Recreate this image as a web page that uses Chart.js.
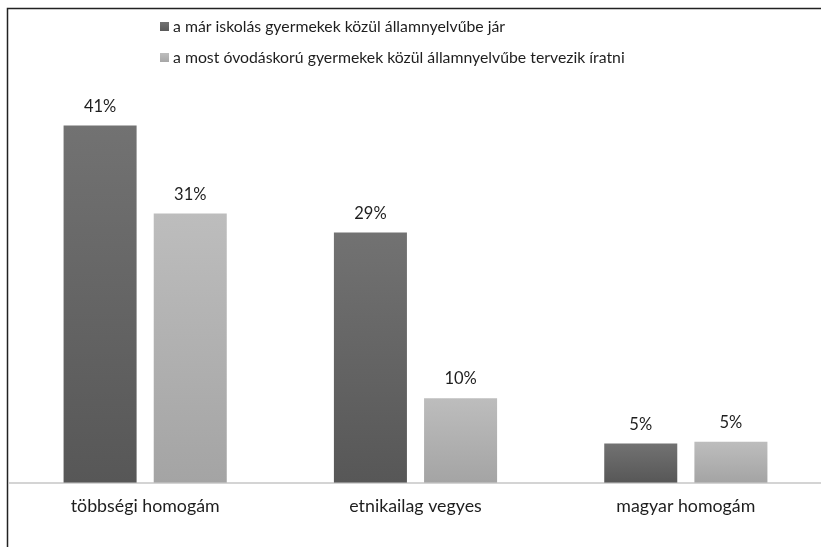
<!DOCTYPE html>
<html>
<head>
<meta charset="utf-8">
<script src="https://cdn.jsdelivr.net/npm/chart.js@4"></script>
<style>
  html, body { margin: 0; padding: 0; background: #fff; }
  #wrap { width: 821px; height: 547px; }
</style>
</head>
<body>
<div id="wrap"><canvas id="chart"></canvas></div>
<script>
// adatok
const categories = ['többségi homogám', 'etnikailag vegyes', 'magyar homogám'];
const seriesNames = [
    'a már iskolás gyermekek közül államnyelvűbe jár',
    'a most óvodáskorú gyermekek közül államnyelvűbe tervezik íratni'
];
const schoolData = [41, 28.7, 4.5];
const preschoolData = [30.9, 9.7, 4.7];

const FONT = 'Lato, "Open Sans", sans-serif';
const darkStops = ['#727272', '#575757'];
const lightStops = ['#bdbdbd', '#a4a4a4'];

// oszlop színátmenet
const barGradient = (stops) => (ctx) => {
    const chart = ctx.chart;
    if (!chart.chartArea || ctx.raw == null) return stops[1];
    const y = chart.scales.y;
    const top = y.getPixelForValue(ctx.raw);
    const bottom = y.getPixelForValue(0);
    const g = chart.ctx.createLinearGradient(0, top, 0, bottom);
    g.addColorStop(0, stops[0]);
    g.addColorStop(1, stops[1]);
    return g;
};

// keret + jelmagyarázat + értékcímkék
const decorPlugin = {
    id: 'decor',
    beforeDraw(chart) {
        const c = chart.ctx;
        c.save();
        c.fillStyle = '#fff';
        c.fillRect(0, 0, chart.width, chart.height);
        c.strokeStyle = '#222';
        c.lineWidth = 1.5;
        c.beginPath();
        c.moveTo(7.5, chart.height);
        c.lineTo(7.5, 8.5);
        c.lineTo(chart.width, 8.5);
        c.stroke();
        c.restore();
    },
    afterDatasetsDraw(chart) {
        const c = chart.ctx;
        c.save();
        c.font = '16.5px ' + FONT;
        c.fillStyle = '#1e1e1e';
        c.textAlign = 'center';
        c.textBaseline = 'middle';
        chart.data.datasets.forEach((ds, i) => {
            chart.getDatasetMeta(i).data.forEach((bar, j) => {
                c.fillText(Math.round(ds.data[j]) + '%', bar.x, bar.y - 19);
            });
        });
        // jelmagyarázat
        c.font = '15.8px ' + FONT;
        c.textAlign = 'left';
        const legendY = [27, 58];
        chart.data.datasets.forEach((ds, i) => {
            const st = i === 0 ? darkStops : lightStops;
            const g = c.createLinearGradient(0, legendY[i] - 5, 0, legendY[i] + 5);
            g.addColorStop(0, st[0]);
            g.addColorStop(1, st[1]);
            c.fillStyle = g;
            c.fillRect(160, legendY[i] - 5, 9, 9);
            c.fillStyle = '#1e1e1e';
            c.fillText(ds.label, 173, legendY[i]);
        });
        c.restore();
    }
};

new Chart(document.getElementById('chart'), {
    type: 'bar',
    data: {
        labels: categories,
        datasets: [
            {
                label: seriesNames[0],
                data: schoolData,
                backgroundColor: barGradient(darkStops),
                categoryPercentage: 0.667,
                barPercentage: 0.81
            },
            {
                label: seriesNames[1],
                data: preschoolData,
                backgroundColor: barGradient(lightStops),
                categoryPercentage: 0.667,
                barPercentage: 0.81
            }
        ]
    },
    options: {
        responsive: true,
        maintainAspectRatio: false,
        animation: false,
        layout: { padding: { left: 10, right: 0, top: 47, bottom: 25 } },
        plugins: {
            legend: { display: false },
            tooltip: { enabled: false }
        },
        scales: {
            x: {
                grid: { display: false },
                border: { display: true, color: '#d4d4d4', width: 2 },
                ticks: {
                    color: '#1e1e1e',
                    padding: 5,
                    font: { family: FONT, size: 17.8 }
                }
            },
            y: {
                display: false,
                min: 0,
                max: 50
            }
        }
    },
    plugins: [decorPlugin]
});
</script>
</body>
</html>
